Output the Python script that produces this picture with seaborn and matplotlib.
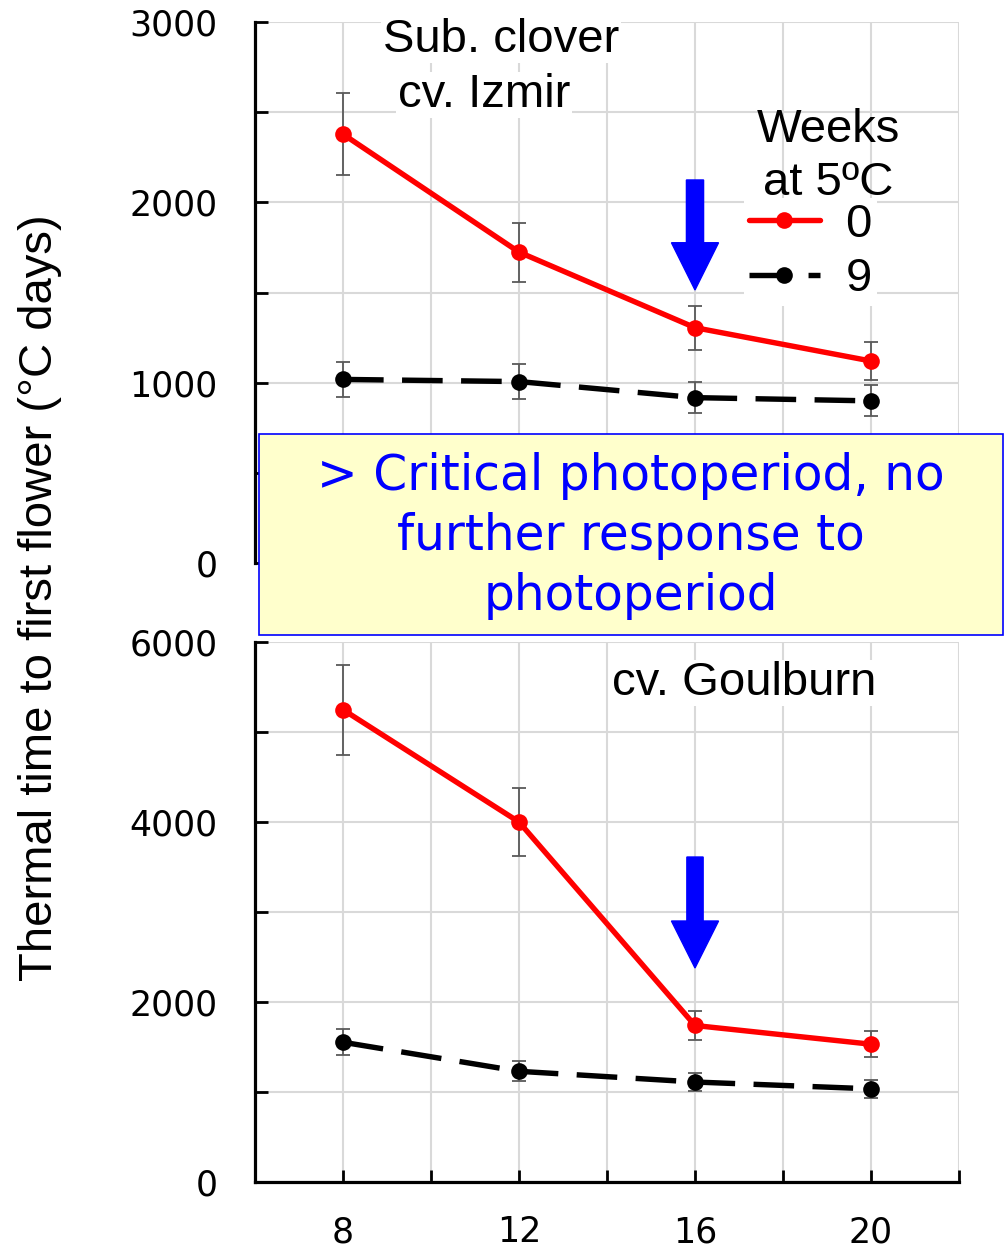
import matplotlib
matplotlib.use("Agg")
import matplotlib.pyplot as plt
from matplotlib.patches import Rectangle, FancyArrow
from matplotlib.font_manager import FontProperties
import numpy as np
import pandas as pd
import seaborn as sns

# ---------------- data ----------------
photoperiod = [8, 12, 16, 20]
weeks_labels = ["0", "9"]

izmir_0wk = [2378, 1724, 1305, 1120]
izmir_0wk_se = [226, 164, 122, 106]
izmir_9wk = [1018, 1006, 917, 899]
izmir_9wk_se = [97, 96, 87, 86]

goulburn_0wk = [5248, 4000, 1739, 1531]
goulburn_0wk_se = [500, 378, 166, 144]
goulburn_9wk = [1553, 1230, 1111, 1035]
goulburn_9wk_se = [146, 110, 102, 100]

x_ticks = [6, 8, 10, 12, 14, 16, 18, 20, 22]
x_ticklabels = ["", "8", "", "12", "", "16", "", "20", ""]
top_yticks = [0, 500, 1000, 1500, 2000, 2500, 3000]
top_yticklabels = ["0", "", "1000", "", "2000", "", "3000"]
bot_yticks = [0, 1000, 2000, 3000, 4000, 5000, 6000]
bot_yticklabels = ["0", "", "2000", "", "4000", "", "6000"]

critical_photoperiod = 16

# ---------------- style ----------------
sns.set_theme(style="white")
plt.rcParams["font.family"] = ["Liberation Sans", "DejaVu Sans"]
for k in ("text.color", "axes.labelcolor", "xtick.color", "ytick.color"):
    plt.rcParams[k] = "black"

W, H = 1006, 1254
fig = plt.figure(figsize=(W / 100, H / 100), dpi=100)

def fx(px):
    return px / W

def fy(py):
    return 1 - py / H

ax1 = fig.add_axes([fx(255), fy(563), fx(959) - fx(255), fy(22) - fy(563)])
ax2 = fig.add_axes([fx(255), fy(1182), fx(959) - fx(255), fy(642) - fy(1182)])

pal = {"0": "#FF0000", "9": "#000000"}
dashes = {"0": "", "9": (7.5, 3.4)}
markers = {"0": "o", "9": "o"}
tick_font = FontProperties(family="DejaVu Sans", size=25)
big = FontProperties(family="Liberation Sans", size=34)
LW = 3.9
MS = 12


def make_df(v0, v9):
    return pd.DataFrame({
        "photoperiod": photoperiod * 2,
        "tt": list(v0) + list(v9),
        "weeks": [weeks_labels[0]] * len(photoperiod) + [weeks_labels[1]] * len(photoperiod),
    })


panels = [
    (ax1, make_df(izmir_0wk, izmir_9wk), (izmir_0wk, izmir_0wk_se), (izmir_9wk, izmir_9wk_se),
     (0, 3000), top_yticks, top_yticklabels, True),
    (ax2, make_df(goulburn_0wk, goulburn_9wk), (goulburn_0wk, goulburn_0wk_se), (goulburn_9wk, goulburn_9wk_se),
     (0, 6000), bot_yticks, bot_yticklabels, False),
]

for ax, df, s0, s9, ylim, yt, ytl, is_top in panels:
    for vals, se in (s0, s9):
        ax.errorbar(photoperiod, vals, yerr=se, fmt="none", ecolor="#595959",
                    elinewidth=1.3, capsize=5, capthick=1.3, zorder=2)
    sns.lineplot(data=df, x="photoperiod", y="tt", hue="weeks", style="weeks",
                 hue_order=weeks_labels, style_order=weeks_labels,
                 palette=pal, dashes=dashes, markers=markers, markersize=MS,
                 markeredgewidth=0, linewidth=LW, ax=ax, legend=is_top,
                 errorbar=None, zorder=3)
    ax.set_xlim(6, 22)
    ax.set_ylim(*ylim)
    ax.set_xticks(x_ticks)
    ax.set_yticks(yt)
    ax.set_yticklabels(ytl, fontproperties=tick_font)
    ax.set_xlabel("")
    ax.set_ylabel("")
    ax.grid(True, color="#D9D9D9", linewidth=1.5)
    ax.set_axisbelow(True)
    for sp in ("top", "right"):
        ax.spines[sp].set_visible(False)
    ax.spines["left"].set_color("black")
    ax.spines["left"].set_linewidth(2.3)
    ax.tick_params(axis="y", direction="in", length=9, width=2, color="black", pad=27,
                   left=True)
    if is_top:
        ax.spines["bottom"].set_visible(False)
        ax.tick_params(axis="x", length=0, labelbottom=False)
    else:
        ax.spines["bottom"].set_color("black")
        ax.spines["bottom"].set_linewidth(2.3)
        ax.set_xticklabels(x_ticklabels, fontproperties=tick_font)
        ax.tick_params(axis="x", direction="in", length=9, width=2, color="black", pad=24,
                       bottom=True)
    ax.set_facecolor("white")

# arrows marking the critical photoperiod
ax1.add_patch(FancyArrow(critical_photoperiod, 2124, 0, -610, width=0.39, head_width=1.07,
                         head_length=262, length_includes_head=True,
                         color="#0000FF", zorder=4))
ax2.add_patch(FancyArrow(critical_photoperiod, 3611, 0, -1233, width=0.37, head_width=1.07,
                         head_length=522, length_includes_head=True,
                         color="#0000FF", zorder=4))

# panel titles
tb = dict(facecolor="white", edgecolor="none", pad=1)
fig.text(fx(501), fy(40), "Sub. clover", ha="center", va="center", fontproperties=big,
         bbox=tb, zorder=2)
fig.text(fx(484), fy(95), "cv. Izmir", ha="center", va="center", fontproperties=big,
         bbox=tb, zorder=2)
fig.text(fx(744), fy(683), "cv. Goulburn", ha="center", va="center", fontproperties=big,
         bbox=tb, zorder=2)

# legend
h, l = ax1.get_legend_handles_labels()
pairs = [(hh, ll) for hh, ll in zip(h, l) if ll in weeks_labels]
if ax1.get_legend() is not None:
    ax1.get_legend().remove()
leg = ax1.legend([p[0] for p in pairs], [p[1] for p in pairs], loc="center left",
                 bbox_to_anchor=(fx(744), fy(252)), bbox_transform=fig.transFigure,
                 frameon=True, facecolor="white", edgecolor="none", framealpha=1,
                 fancybox=False, prop=big, handlelength=1.5, handletextpad=0.55,
                 labelspacing=0.22, borderpad=0.1, borderaxespad=0)
for ln in leg.get_lines():
    ln.set_markersize(MS)
    ln.set_linewidth(LW)
leg.set_zorder(5)
ax1.text(fx(828), fy(130), "Weeks", transform=fig.transFigure, ha="center", va="center",
         fontproperties=big, zorder=6)
ax1.text(fx(828), fy(183), "at 5ºC", transform=fig.transFigure, ha="center", va="center",
         fontproperties=big, zorder=6)

# y label
fig.text(fx(40), fy(598), "Thermal time to first flower (°C days)", rotation=90,
         ha="center", va="center", fontproperties=big)

# annotation box
fig.add_artist(Rectangle((fx(259), fy(635)), fx(1003) - fx(259), fy(434) - fy(635),
                         transform=fig.transFigure, facecolor="#FFFFCC",
                         edgecolor="#0000FF", linewidth=1.2, zorder=10))
box_font = FontProperties(family="DejaVu Sans", size=35)
for txt, py in (("> Critical photoperiod, no", 476), ("further response to", 536),
                ("photoperiod", 596)):
    fig.text(fx(631), fy(py), txt, ha="center", va="center", color="#0000FF",
             fontproperties=box_font, zorder=11)

fig.savefig("out.png", dpi=100)
